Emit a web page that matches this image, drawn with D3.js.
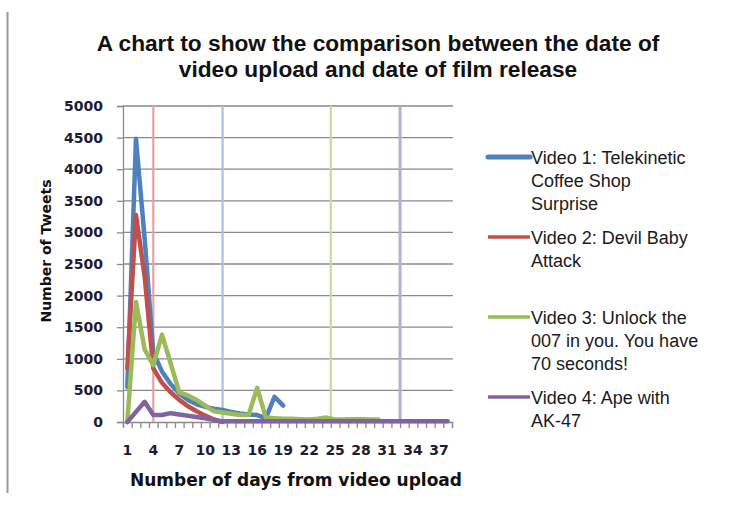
<!DOCTYPE html>
<html>
<head>
<meta charset="utf-8">
<script src="https://cdn.jsdelivr.net/npm/d3@7"></script>
<style>
  body { margin: 0; background: #fff; }
  svg { display: block; }
</style>
</head>
<body>
<div id="chart"></div>
<script>
'use strict';

// days since upload (category axis)
const days = [1, 2, 3, 4, 5, 6, 7, 8, 9, 10, 11, 12, 13, 14, 15, 16, 17, 18, 19,
  20, 21, 22, 23, 24, 25, 26, 27, 28, 29, 30, 31, 32, 33, 34, 35, 36, 37, 38];
const dayLabels = [1, 4, 7, 10, 13, 16, 19, 22, 25, 28, 31, 34, 37];
const yTicks = [0, 500, 1000, 1500, 2000, 2500, 3000, 3500, 4000, 4500, 5000];

const seriesNames = [
  ['Video 1: Telekinetic', 'Coffee Shop', 'Surprise'],
  ['Video 2: Devil Baby', 'Attack'],
  ['Video 3: Unlock the', '007 in you. You have', '70 seconds!'],
  ['Video 4: Ape with', 'AK-47']
];
const video1 = [550, 4480, 2900, 1100, 800, 600, 450, 350, 280, 240, 210, 190, 160, 135, 120, 110, 60, 400, 260];
const video2 = [850, 3275, 2300, 850, 620, 470, 350, 250, 170, 100, 40, 0];
const video3 = [0, 1900, 1150, 900, 1380, 930, 470, 420, 350, 260, 170, 150, 130, 110, 110, 540, 70, 60, 50, 50,
  45, 40, 50, 70, 40, 40, 45, 45, 40, 40];
const video4 = [0, 160, 320, 110, 110, 140, 120, 100, 80, 60, 30, 10, 10, 10, 10, 10, 10, 10, 10, 10,
  10, 10, 10, 10, 10, 10, 10, 10, 10, 10, 10, 10, 10, 10, 10, 10, 10, 10];
// day of film release: red video at 4, blue at 12, green at 24.5, purple at 32.5
const releaseDays = [4, 12, 24.5, 32.5];
const releaseSeries = [1, 0, 2, 3];

const colors = ['#4f81bd', '#c0504d', '#9bbb59', '#8064a2'];
const paleColors = ['#a9c0e0', '#e6a3a2', '#c6dba0', '#b9abd3'];

const width = 729, height = 511;
const plot = { left: 123, right: 452, top: 106, bottom: 422 };

const svg = d3.select('#chart').append('svg')
  .attr('width', width)
  .attr('height', height);

// frame line on the left
svg.append('line')
  .attr('x1', 7.5).attr('x2', 7.5)
  .attr('y1', 12).attr('y2', 493)
  .attr('stroke', '#9a9a9a')
  .attr('stroke-width', 2);

const xScale = d3.scaleLinear()
  .domain([0.5, days.length + 0.5])
  .range([plot.left, plot.right]);

const yScale = d3.scaleLinear()
  .domain([0, 5000])
  .range([plot.bottom, plot.top]);

// title
const titleLines = ['A chart to show the comparison between the date of', 'video upload and date of film release'];
svg.append('g')
  .selectAll('text')
  .data(titleLines)
  .enter().append('text')
    .attr('x', 378)
    .attr('y', (d, i) => 51 + i * 26)
    .attr('text-anchor', 'middle')
    .style('font-family', 'Liberation Sans, Arial, sans-serif')
    .style('font-weight', 'bold')
    .style('font-size', '22.7px')
    .attr('fill', '#111')
    .text(d => d);

// gridlines
svg.append('g')
  .selectAll('line')
  .data(yTicks.slice(1))
  .enter().append('line')
    .attr('x1', plot.left).attr('x2', plot.right + 1)
    .attr('y1', d => yScale(d)).attr('y2', d => yScale(d))
    .attr('stroke', '#8a8a8a')
    .attr('stroke-width', 1.3);

// y axis
const yAxis = svg.append('g')
  .attr('transform', `translate(${plot.left}, 0)`)
  .call(d3.axisLeft(yScale).tickValues(yTicks).tickSize(6).tickPadding(14).tickFormat(d3.format('d')));
yAxis.select('.domain').attr('stroke', '#8a8a8a').attr('stroke-width', 1.3);
yAxis.selectAll('.tick line').attr('stroke', '#8a8a8a').attr('stroke-width', 1.3);
yAxis.selectAll('.tick text')
  .style('font-family', 'DejaVu Sans, sans-serif')
  .style('font-weight', 'bold')
  .style('font-size', '14px')
  .attr('fill', '#1c1c34');

// x axis
const xAxis = svg.append('g')
  .attr('transform', `translate(0, ${plot.bottom})`)
  .call(d3.axisBottom(xScale)
    .tickValues(d3.range(0.5, days.length + 1, 1))
    .tickSize(6)
    .tickFormat(''));
xAxis.select('.domain').attr('stroke', '#8a8a8a').attr('stroke-width', 1.3);
xAxis.selectAll('.tick line').attr('stroke', '#8a8a8a').attr('stroke-width', 1.3);

svg.append('g')
  .selectAll('text')
  .data(dayLabels)
  .enter().append('text')
    .attr('x', d => xScale(d))
    .attr('y', 455)
    .attr('text-anchor', 'middle')
    .style('font-family', 'DejaVu Sans, sans-serif')
    .style('font-weight', 'bold')
    .style('font-size', '14px')
    .attr('fill', '#1c1c34')
    .text(d => d);

// axis titles
svg.append('text')
  .attr('x', 296).attr('y', 486)
  .attr('text-anchor', 'middle')
  .style('font-family', 'DejaVu Sans, sans-serif')
  .style('font-weight', 'bold')
  .style('font-size', '17px')
  .attr('fill', '#111')
  .text('Number of days from video upload');

svg.append('text')
  .attr('transform', 'translate(51, 251) rotate(-90)')
  .attr('text-anchor', 'middle')
  .style('font-family', 'DejaVu Sans, sans-serif')
  .style('font-weight', 'bold')
  .style('font-size', '14px')
  .attr('fill', '#111')
  .text('Number of Tweets');

// release day markers
svg.append('g')
  .selectAll('line')
  .data(releaseDays)
  .enter().append('line')
    .attr('x1', d => xScale(d)).attr('x2', d => xScale(d))
    .attr('y1', yScale(5000)).attr('y2', yScale(0))
    .attr('stroke', (d, i) => paleColors[releaseSeries[i]])
    .attr('stroke-width', (d, i) => i === 3 ? 3 : 2.2);

// series lines
const allSeries = [video1, video2, video3, video4];
const line = d3.line()
  .x((d, i) => xScale(days[i]))
  .y(d => yScale(d));

svg.append('g')
  .selectAll('path')
  .data(allSeries)
  .enter().append('path')
    .attr('d', line)
    .attr('fill', 'none')
    .attr('stroke', (d, i) => colors[i])
    .attr('stroke-width', 4.5)
    .attr('stroke-linejoin', 'round')
    .attr('stroke-linecap', 'round');

// legend
const legendTop = [157, 237, 317, 397];
const legend = svg.append('g');
seriesNames.forEach(function (lines, i) {
  legend.append('line')
    .attr('x1', 488).attr('x2', 530)
    .attr('y1', legendTop[i]).attr('y2', legendTop[i])
    .attr('stroke', colors[i])
    .attr('stroke-width', i === 0 ? 5 : 3.5)
    .attr('stroke-linecap', i === 0 ? 'round' : 'butt');
  legend.append('text')
    .attr('x', 531)
    .attr('y', legendTop[i] + 6.5)
    .style('font-family', 'Liberation Sans, Arial, sans-serif')
    .style('font-size', '18px')
    .attr('fill', '#1a1a1a')
    .selectAll('tspan')
    .data(lines)
    .enter().append('tspan')
      .attr('x', 531)
      .attr('dy', (d, j) => j === 0 ? 0 : 23)
      .text(d => d);
});
</script>
</body>
</html>
